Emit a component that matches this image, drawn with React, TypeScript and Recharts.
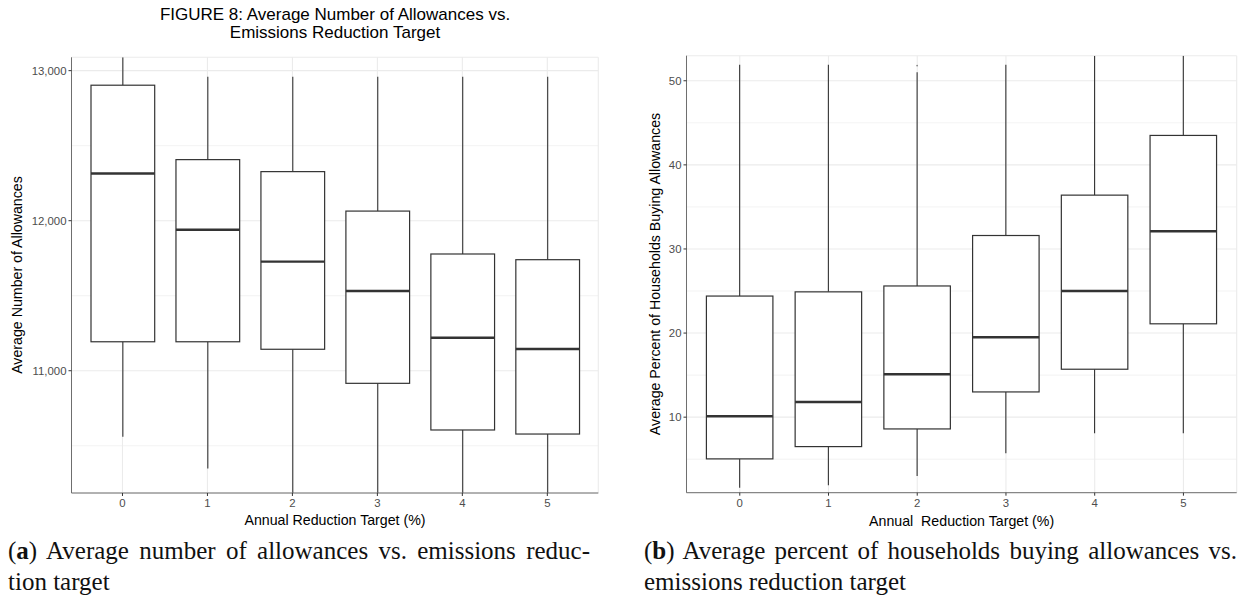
import React from 'react';
import { ComposedChart, Bar, XAxis, YAxis, CartesianGrid } from 'recharts';

// categories shared by both panels
const targets = ['0', '1', '2', '3', '4', '5'];

// panel (a): average number of allowances
const allowLow = [10560, 10349, 10120, 10080, 10050, 10050];
const allowQ1 = [11193, 11193, 11143, 10916, 10605, 10578];
const allowMedian = [12315, 11940, 11727, 11531, 11220, 11145];
const allowQ3 = [12903, 12407, 12327, 12064, 11778, 11740];
const allowHigh = [13150, 12960, 12960, 12960, 12960, 12960];
const allowTicks = [11000, 12000, 13000];
const allowMinor = [10500, 11500, 12500];

// panel (b): average percent of households buying allowances
const pctLow = [1.6, 1.9, 3.0, 5.7, 8.1, 8.1];
const pctQ1 = [5.04, 6.5, 8.6, 13.0, 15.7, 21.1];
const pctMedian = [10.1, 11.8, 15.1, 19.5, 25.0, 32.1];
const pctQ3 = [24.4, 24.9, 25.6, 31.6, 36.4, 43.5];
const pctHigh = [51.9, 51.9, 51.0, 51.9, 54.5, 54.5];
const pctOutliers = [[], [], [51.8], [], [], []];
const pctTicks = [10, 20, 30, 40, 50];
const pctMinor = [5, 15, 25, 35, 45];

const SANS = '"Liberation Sans", Arial, Helvetica, sans-serif';
const SERIF = '"Liberation Serif", "DejaVu Serif", serif';
const INK = '#333333';
const BORDER = '#6e6e6e';
const GRID = '#ebebeb';

type BoxRow = {
  target: string;
  low: number;
  q1: number;
  median: number;
  q3: number;
  high: number;
  outliers: number[];
};

const allowRows: BoxRow[] = targets.map((t, i) => ({
  target: t,
  low: allowLow[i],
  q1: allowQ1[i],
  median: allowMedian[i],
  q3: allowQ3[i],
  high: allowHigh[i],
  outliers: [],
}));

const pctRows: BoxRow[] = targets.map((t, i) => ({
  target: t,
  low: pctLow[i],
  q1: pctQ1[i],
  median: pctMedian[i],
  q3: pctQ3[i],
  high: pctHigh[i],
  outliers: pctOutliers[i],
}));

// The bar spans q1..q3; whiskers and median are placed on the same linear scale.
const BoxShape = (props: any) => {
  const { x, y, width, height, payload, background } = props;
  if (!payload) return null;
  const top = Math.min(y, y + height);
  const bottom = Math.max(y, y + height);
  const ppu = (bottom - top) / (payload.q3 - payload.q1);
  const toY = (v: number) => bottom - (v - payload.q1) * ppu;
  const minY = background ? background.y : -1e6;
  const maxY = background ? background.y + background.height : 1e6;
  const clamp = (v: number) => Math.max(minY, Math.min(maxY, v));
  const cx = x + width / 2;
  const med = toY(payload.median);
  return (
    <g>
      <line x1={cx} x2={cx} y1={clamp(toY(payload.high))} y2={top} stroke={INK} strokeWidth={1.1} />
      <line x1={cx} x2={cx} y1={bottom} y2={clamp(toY(payload.low))} stroke={INK} strokeWidth={1.1} />
      <rect x={x} y={top} width={width} height={bottom - top} fill="#fff" stroke={INK} strokeWidth={1.2} />
      <line x1={x} x2={x + width} y1={med} y2={med} stroke={INK} strokeWidth={2.4} />
      {payload.outliers.map((o: number, k: number) => (
        <circle key={k} cx={cx} cy={toY(o)} r={0.9} fill="#888" />
      ))}
    </g>
  );
};

interface PanelProps {
  rows: BoxRow[];
  domain: [number, number];
  ticks: number[];
  minor: number[];
  yWidth: number;
  margin: { top: number; right: number; bottom: number; left: number };
  width: number;
  height: number;
  pad: number;
  barSize: number;
  format?: (v: number) => string;
}

const BoxPanel: React.FC<PanelProps> = ({ rows, domain, ticks, minor, yWidth, margin, width, height, pad, barSize, format }) => {
  const tickStyle = { fill: '#4d4d4d', fontSize: 11.4, fontFamily: SANS };
  return (
    <ComposedChart width={width} height={height} data={rows} margin={margin}>
      <CartesianGrid vertical={false} horizontalValues={minor} stroke={GRID} strokeWidth={0.6} />
      <CartesianGrid stroke={GRID} strokeWidth={1.1} />
      <XAxis
        dataKey="target"
        type="category"
        padding={{ left: pad, right: pad }}
        height={20}
        tickSize={3}
        tickMargin={3}
        tick={tickStyle}
        tickLine={{ stroke: INK }}
        axisLine={{ stroke: BORDER }}
      />
      <XAxis xAxisId="top" dataKey="target" orientation="top" height={0} tick={false} tickLine={false} axisLine={{ stroke: BORDER }} />
      <YAxis
        type="number"
        domain={domain}
        allowDataOverflow
        ticks={ticks}
        width={yWidth}
        tickSize={3}
        tickMargin={2}
        tick={tickStyle}
        tickLine={{ stroke: INK }}
        axisLine={{ stroke: BORDER }}
        tickFormatter={format}
      />
      <YAxis yAxisId="right" orientation="right" width={0} domain={domain} tick={false} tickLine={false} axisLine={{ stroke: BORDER }} />
      <Bar dataKey={(d: BoxRow) => [d.q1, d.q3]} barSize={barSize} shape={<BoxShape />} isAnimationActive={false} />
    </ComposedChart>
  );
};

const abs = (left: number, top: number, extra: React.CSSProperties = {}): React.CSSProperties => ({
  position: 'absolute',
  left,
  top,
  ...extra,
});

const justified: React.CSSProperties = { textAlign: 'justify', textAlignLast: 'justify', whiteSpace: 'nowrap' };

export default function App() {
  return (
    <div style={{ position: 'absolute', left: 0, top: 0, width: 1239, height: 613, overflow: 'hidden', background: '#fff' }}>
      {/* panel (a) */}
      <div style={abs(0, 0)}>
        <BoxPanel
          rows={allowRows}
          domain={[10185, 13089]}
          ticks={allowTicks}
          minor={allowMinor}
          yWidth={71.5}
          margin={{ top: 57.3, right: 21.7, bottom: 0, left: 0 }}
          width={620}
          height={513}
          pad={8.5}
          barSize={63.7}
          format={(v: number) => v.toLocaleString('en-US')}
        />
      </div>
      <div style={abs(71.5, 6, { width: 527, textAlign: 'center', fontFamily: SANS, fontSize: 17, lineHeight: '17.5px', color: '#000' })}>
        FIGURE 8: Average Number of Allowances vs.
        <br />
        Emissions Reduction Target
      </div>
      <div style={abs(17, 275, { transform: 'translate(-50%, -50%) rotate(-90deg)', whiteSpace: 'nowrap', fontFamily: SANS, fontSize: 14.2 })}>
        Average Number of Allowances
      </div>
      <div style={abs(335, 520, { transform: 'translate(-50%, -50%)', whiteSpace: 'nowrap', fontFamily: SANS, fontSize: 14.2 })}>
        Annual Reduction Target (%)
      </div>

      {/* panel (b) */}
      <div style={abs(620, 0)}>
        <BoxPanel
          rows={pctRows}
          domain={[1.02, 52.98]}
          ticks={pctTicks}
          minor={pctMinor}
          yWidth={66.5}
          margin={{ top: 55.7, right: 2.3, bottom: 0, left: 0 }}
          width={619}
          height={512.7}
          pad={8.9}
          barSize={66.5}
        />
      </div>
      <div style={abs(655, 274, { transform: 'translate(-50%, -50%) rotate(-90deg)', whiteSpace: 'nowrap', fontFamily: SANS, fontSize: 14.2 })}>
        Average Percent of Households Buying Allowances
      </div>
      <div style={abs(961.6, 521, { transform: 'translate(-50%, -50%)', whiteSpace: 'pre', fontFamily: SANS, fontSize: 14.2 })}>
        {'Annual  Reduction Target (%)'}
      </div>

      {/* captions */}
      <div style={abs(8, 535, { width: 582, fontFamily: SERIF, fontSize: 25, lineHeight: '31px', color: '#111' })}>
        <div style={justified}>
          (<b>a</b>) Average number of allowances vs. emissions reduc-
        </div>
        <div>tion target</div>
      </div>
      <div style={abs(644, 535, { width: 593, fontFamily: SERIF, fontSize: 25, lineHeight: '31px', color: '#111' })}>
        <div style={justified}>
          (<b>b</b>) Average percent of households buying allowances vs.
        </div>
        <div>emissions reduction target</div>
      </div>
    </div>
  );
}
